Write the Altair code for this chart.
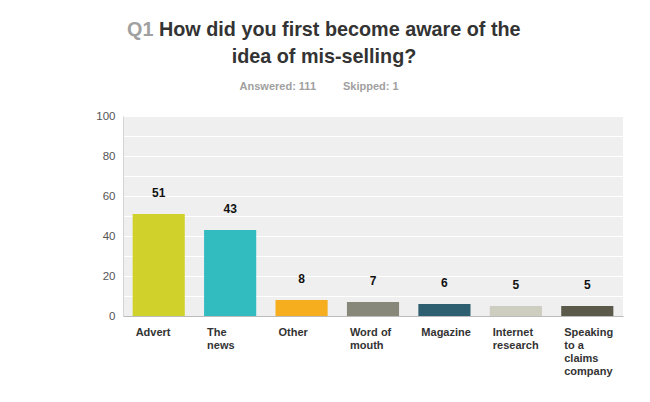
import altair as alt
import pandas as pd

categories = ["Advert", "The news", "Other", "Word of mouth", "Magazine",
              "Internet research", "Speaking to a claims company"]
label_lines = ["Advert", "The\nnews", "Other", "Word of\nmouth", "Magazine",
               "Internet\nresearch", "Speaking\nto a\nclaims\ncompany"]
values = [51, 43, 8, 7, 6, 5, 5]
colors = ["#d0d22b", "#33bcbf", "#f6ae1e", "#87877a", "#2e5f70", "#cdcdc0", "#5b5a4a"]
grid_values = [0, 10, 20, 30, 40, 50, 60, 70, 80, 90, 100]

df = pd.DataFrame({"cat": categories, "lab": label_lines, "val": values})

FONT = "Liberation Sans"
W, H = 500, 200

yscale = alt.Scale(domain=[0, 100], nice=False)
xscale = alt.Scale(paddingInner=0.27, paddingOuter=0.135)
xaxis = alt.Axis(labels=False, ticks=False, title=None, domainColor="#bbbbbb", grid=False)
yaxis = alt.Axis(values=grid_values, title=None, ticks=False,
                 labelExpr="datum.value % 20 == 0 ? datum.label : ''",
                 labelOverlap=False, labelFlush=False,
                 labelColor="#555555", labelFont=FONT, labelFontSize=11.5,
                 labelPadding=8, gridColor="#ffffff", gridWidth=1.2,
                 domainColor="#d4d4d4")

bars = alt.Chart(df).mark_bar().encode(
    x=alt.X("cat:N", sort=categories, scale=xscale, axis=xaxis),
    y=alt.Y("val:Q", scale=yscale, axis=yaxis),
    color=alt.Color("cat:N", scale=alt.Scale(domain=categories, range=colors), legend=None),
)

vals = alt.Chart(df).mark_text(font=FONT, fontSize=12, fontWeight="bold", color="#111111",
                               baseline="bottom", dy=-14).encode(
    x=alt.X("cat:N", sort=categories, scale=xscale, axis=xaxis),
    y=alt.Y("val:Q", scale=yscale, axis=yaxis),
    text="val:Q",
)

xlabels = alt.Chart(df).mark_text(font=FONT, fontSize=11, fontWeight="bold", color="#333333",
                                  align="left", baseline="top", lineBreak="\n", lineHeight=13,
                                  dx=3).encode(
    x=alt.X("cat:N", sort=categories, bandPosition=0, scale=xscale, axis=xaxis),
    y=alt.value(H + 11),
    text="lab:N",
)

one = df.head(1)
q1 = alt.Chart(one).mark_text(font=FONT, fontSize=19.8, fontWeight="bold", color="#a0a0a0",
                              align="left", baseline="middle").encode(
    x=alt.value(4), y=alt.value(-86), text=alt.value("Q1"))
t1 = alt.Chart(one).mark_text(font=FONT, fontSize=19.8, fontWeight="bold", color="#333333",
                              align="left", baseline="middle").encode(
    x=alt.value(36), y=alt.value(-86), text=alt.value("How did you first become aware of the"))
t2 = alt.Chart(one).mark_text(font=FONT, fontSize=19.8, fontWeight="bold", color="#333333",
                              align="center", baseline="middle").encode(
    x=alt.value(201), y=alt.value(-59), text=alt.value("idea of mis-selling?"))
sub1 = alt.Chart(one).mark_text(font=FONT, fontSize=11, fontWeight="bold", color="#a0a0a0",
                                align="right", baseline="middle").encode(
    x=alt.value(193), y=alt.value(-29), text=alt.value("Answered: 111"))
sub2 = alt.Chart(one).mark_text(font=FONT, fontSize=11, fontWeight="bold", color="#a0a0a0",
                                align="left", baseline="middle").encode(
    x=alt.value(220), y=alt.value(-29), text=alt.value("Skipped: 1"))

chart = alt.layer(bars, vals, xlabels, q1, t1, t2, sub1, sub2).properties(
    width=W, height=H,
    autosize=alt.AutoSizeParams(type="none"),
    padding={"left": 115, "top": 108, "right": 10, "bottom": 70},
    background="#ffffff",
).configure_view(fill="#efefef", stroke=None)

chart.save("out.html", embed_options={"renderer": "svg", "actions": False})
